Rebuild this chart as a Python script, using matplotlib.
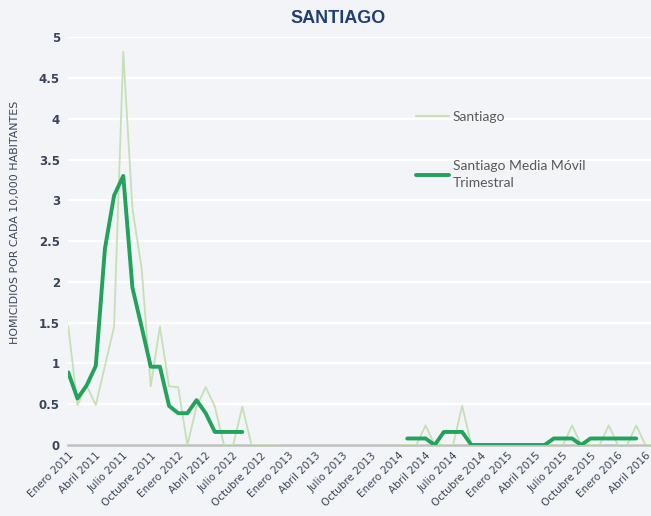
import matplotlib.pyplot as plt
import numpy as np

# etiquetas del eje x (cada 3 meses, desde Enero 2011)
etiquetas = ['Enero 2011', 'Abril 2011', 'Julio 2011', 'Octubre 2011',
             'Enero 2012', 'Abril 2012', 'Julio 2012', 'Octubre 2012',
             'Enero 2013', 'Abril 2013', 'Julio 2013', 'Octubre 2013',
             'Enero 2014', 'Abril 2014', 'Julio 2014', 'Octubre 2014',
             'Enero 2015', 'Abril 2015', 'Julio 2015', 'Octubre 2015',
             'Enero 2016', 'Abril 2016']

N = np.nan
# tasa mensual (Enero 2011 .. Mayo 2016)
santiago = [1.45, 0.49, 0.73, 0.49, 0.97, 1.45, 4.82, 2.90, 2.17, 0.72, 1.45, 0.72,
            0.71, 0.0, 0.47, 0.71, 0.47, 0.0, 0.0, 0.47, 0.0, 0.0, 0.0, 0.0,
            N, N, N, N, N, N, N, N, N, N, N, N,
            0.0, 0.0, 0.0, 0.24, 0.0, 0.0, 0.0, 0.48, 0.0, 0.0, 0.0, 0.0,
            0.0, 0.0, 0.0, 0.0, 0.0, 0.0, 0.0, 0.24, 0.0, 0.0, 0.0, 0.24,
            0.0, 0.0, 0.24, 0.0, 0.0]

# media movil trimestral
media_movil = [0.89, 0.57, 0.73, 0.97, 2.41, 3.06, 3.30, 1.93, 1.45, 0.96, 0.96, 0.48,
               0.39, 0.39, 0.55, 0.39, 0.16, 0.16, 0.16, 0.16, N, N, N, N,
               N, N, N, N, N, N, N, N, N, N, N, N,
               N, 0.08, 0.08, 0.08, 0.0, 0.16, 0.16, 0.16, 0.0, 0.0, 0.0, 0.0,
               0.0, 0.0, 0.0, 0.0, 0.0, 0.08, 0.08, 0.08, 0.0, 0.08, 0.08, 0.08,
               0.08, 0.08, 0.08, N, N]

fondo = '#f2f4f7'
texto = '#3b4558'

fig = plt.figure(figsize=(6.51, 5.16), dpi=100, facecolor=fondo)
ax = fig.add_axes([68.3 / 651, 71 / 516, 1 - 68.3 / 651, (445 - 37.3) / 516])
ax.set_facecolor(fondo)

meses = np.arange(len(santiago))
ax.plot(meses, santiago, color='#c5e0b4', linewidth=1.3, label='Santiago', zorder=3)
ax.plot(meses, media_movil, color='#21a35b', linewidth=2.8, label='Santiago Media Móvil\nTrimestral',
        solid_joinstyle='round', solid_capstyle='round', zorder=4)

ax.set_xlim(0, (651 - 68.3) / 9.16)
ax.set_ylim(0, 5)
ax.set_yticks(np.arange(0, 5.01, 0.5))
ax.set_yticklabels(['0', '0.5', '1', '1.5', '2', '2.5', '3', '3.5', '4', '4.5', '5'],
                   fontsize=8.5, fontweight='bold', color=texto)
ax.set_xticks(np.arange(0, 64, 3))
ax.set_xticklabels(etiquetas, rotation=45, ha='right', va='top', rotation_mode='anchor',
                   fontsize=7.5, color=texto)
ax.tick_params(axis='both', length=0, pad=6)
ax.tick_params(axis='x', pad=4)

ax.grid(axis='y', color='white', linewidth=1.6, zorder=0)
ax.set_axisbelow(True)
for s in ['top', 'right', 'left']:
    ax.spines[s].set_visible(False)
ax.spines['bottom'].set_color('#bfbfbf')
ax.spines['bottom'].set_linewidth(1.8)

fig.text(338 / 651, 1 - 18.5 / 516, 'SANTIAGO', ha='center', va='center',
         fontsize=13, fontweight='bold', color='#1f3f73', family='Liberation Sans')
fig.text(15 / 651, 1 - 222.5 / 516, 'HOMICIDIOS POR CADA 10,000 HABITANTES', rotation=90,
         ha='center', va='center', fontsize=7.9, color=texto)

leg = ax.legend(loc='upper left', bbox_to_anchor=(416 / 651, 1 - 111 / 516),
                bbox_transform=fig.transFigure, frameon=False, borderpad=0,
                borderaxespad=0, handlelength=2.4, handletextpad=0.25,
                labelspacing=2.7, prop={'family': 'Lato', 'size': 10})
for t in leg.get_texts():
    t.set_color('#595959')
    t.set_linespacing(1.5)

fig.savefig('out.png', dpi=100, facecolor=fondo)
